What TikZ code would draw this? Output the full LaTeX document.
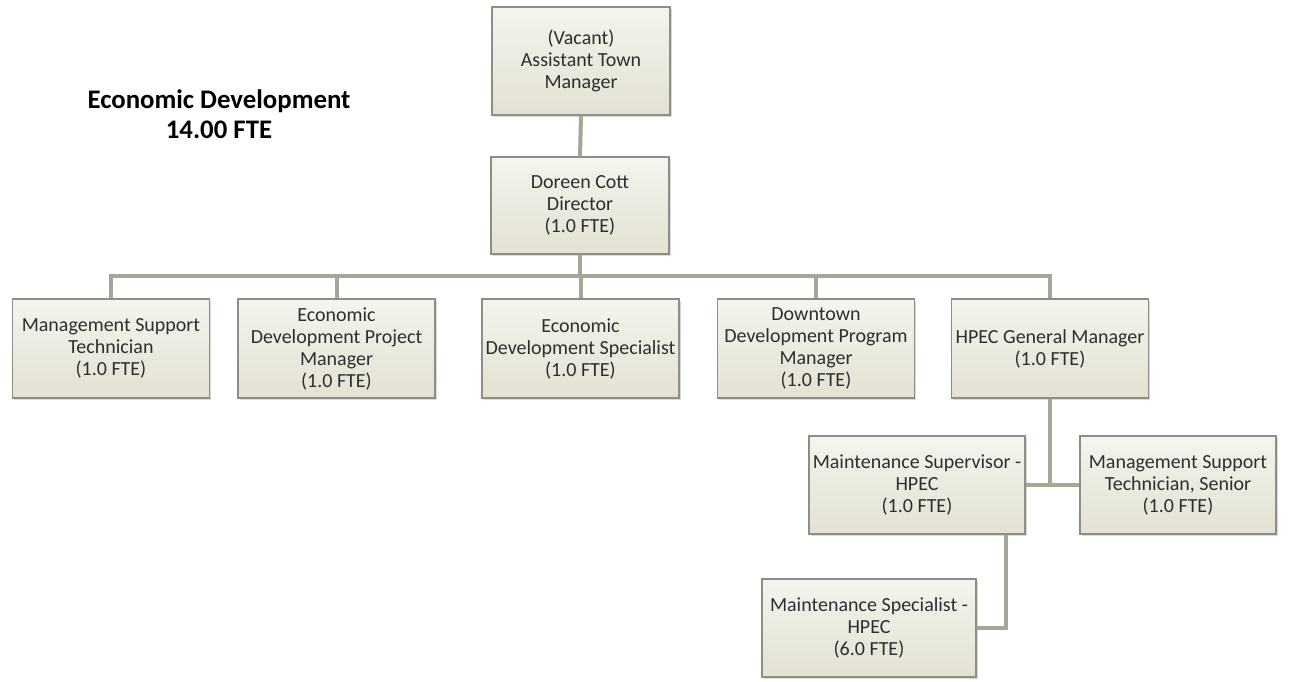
\documentclass[tikz,border=0pt]{standalone}
\usepackage{fontspec}
\setmainfont{Carlito}
\usetikzlibrary{shadows}

\definecolor{boxtop}{HTML}{F5F4EE}
\definecolor{boxbot}{HTML}{E2E1D2}
\definecolor{boxline}{HTML}{8E8E84}
\definecolor{linkcol}{HTML}{A6A596}
\definecolor{txt}{HTML}{2E2E2E}

\begin{document}
\begin{tikzpicture}[x=1pt,y=-1pt]
\tikzset{post/.style={draw=boxline,line width=1.2pt,top color=boxtop,bottom color=boxbot,
           text=txt,align=center,inner sep=0pt,
           font=\fontsize{20}{22}\selectfont,
           drop shadow={opacity=0.3,shadow xshift=1.5pt,shadow yshift=-2pt}},
         link/.style={draw=linkcol,line width=4pt}}
\useasboundingbox (0,0) rectangle (1296,681);

% title
\node[align=center,font=\bfseries\fontsize{26.8}{30}\selectfont] (title) at (219,114)
  {Economic Development\\14.00 FTE};

% top of the chart
\node[post,minimum width=178,minimum height=108] (atm) at (581,61)
  {(Vacant)\\Assistant Town\\Manager};
\node[post,minimum width=178,minimum height=97] (dir) at (580,205.5)
  {Doreen Cott\\Director\\(1.0 FTE)};
\coordinate (bus) at (580,276);
\draw[link] (atm.south) -- (dir.north);
\draw[link] (dir.south) -- (bus);

% the five posts under the director
\foreach \n/\x/\t in {mst/111/{Management Support\\Technician\\(1.0 FTE)},
                      edpm/336.5/{Economic\\Development Project\\Manager\\(1.0 FTE)},
                      eds/580.5/{Economic\\Development Specialist\\(1.0 FTE)},
                      ddpm/816/{Downtown\\Development Program\\Manager\\(1.0 FTE)},
                      gm/1050/{HPEC General Manager\\(1.0 FTE)}}
{
    \node[post,minimum width=197,minimum height=99] (\n) at (\x,348.5) {\t};
    \draw[link] (bus) -| (\n.north);
}

% HPEC
\node[post,minimum width=216,minimum height=98] (ms) at (917,485)
  {Maintenance Supervisor -\\HPEC\\(1.0 FTE)};
\node[post,minimum width=196,minimum height=98] (msts) at (1178,485)
  {Management Support\\Technician, Senior\\(1.0 FTE)};
\node[post,minimum width=214,minimum height=98] (mspec) at (869,628)
  {Maintenance Specialist -\\HPEC\\(6.0 FTE)};
\draw[link] (gm.south) -- (gm.south |- ms.east);
\draw[link] (ms.east) -- (msts.west);
\draw[link] ([xshift=-20pt]ms.south east) |- (mspec.east);
\end{tikzpicture}
\end{document}
